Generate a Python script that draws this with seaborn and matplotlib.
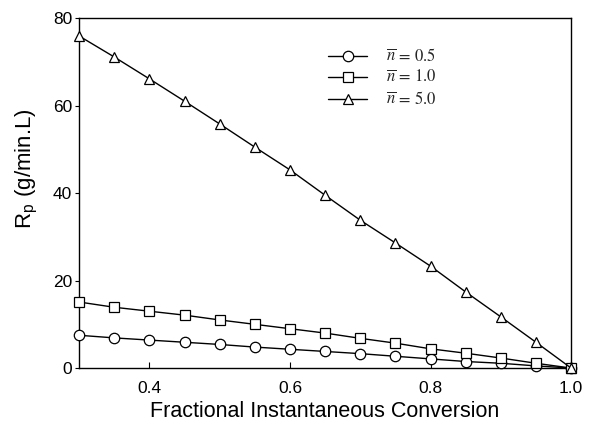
import numpy as np
import pandas as pd
import seaborn as sns
import matplotlib.pyplot as plt

sns.set_style("ticks")
plt.rcParams['font.family'] = ['Liberation Sans', 'DejaVu Sans']
plt.rcParams['mathtext.fontset'] = 'stix'

# data
conversion = [0.30, 0.35, 0.40, 0.45, 0.50, 0.55, 0.60, 0.65, 0.70, 0.75, 0.80, 0.85, 0.90, 0.95, 1.00]
rp_n05 = [7.5, 6.9, 6.4, 5.9, 5.4, 4.8, 4.3, 3.8, 3.3, 2.7, 2.1, 1.5, 1.1, 0.5, 0.0]
rp_n10 = [15.1, 13.9, 13.0, 12.1, 11.0, 10.0, 9.0, 8.0, 6.8, 5.7, 4.4, 3.4, 2.3, 1.1, 0.0]
rp_n50 = [75.9, 71.1, 66.1, 61.0, 55.8, 50.5, 45.3, 39.5, 33.8, 28.6, 23.3, 17.4, 11.7, 5.9, 0.0]
series_labels = [r'$\overline{n}\,=\,0.5$', r'$\overline{n}\,=\,1.0$', r'$\overline{n}\,=\,5.0$']
markers = ['o', 's', '^']

df = pd.DataFrame({'x': conversion * 3,
                   'y': rp_n05 + rp_n10 + rp_n50,
                   'series': [series_labels[0]] * 15 + [series_labels[1]] * 15 + [series_labels[2]] * 15})

fig, ax = plt.subplots(figsize=(5.9, 4.29), dpi=100)
fig.subplots_adjust(left=0.134, right=0.968, top=0.958, bottom=0.142)

for lab, mk in zip(series_labels, markers):
    sns.lineplot(data=df[df['series'] == lab], x='x', y='y', ax=ax, color='black', lw=1,
                 marker=mk, markersize=7.5, markerfacecolor='white', markeredgecolor='black',
                 markeredgewidth=0.9, label=lab, clip_on=False, zorder=3)

ax.set(xlim=(0.3, 1.0), ylim=(0, 80), xticks=[0.4, 0.6, 0.8, 1.0], yticks=[0, 20, 40, 60, 80])
ax.set_xticklabels(['0.4', '0.6', '0.8', '1.0'])
ax.tick_params(axis='x', direction='in', length=4, labelsize=12.5, pad=9, colors='black')
ax.tick_params(axis='y', direction='out', length=3, labelsize=12.5, pad=2, colors='black')
for sp in ax.spines.values():
    sp.set_linewidth(1)
    sp.set_color('black')
    sp.set_visible(True)

ax.set_xlabel('Fractional Instantaneous Conversion', fontsize=15.5, color='black')
ax.xaxis.set_label_coords(0.5, -0.095)
ax.set_ylabel(r'R$_\mathregular{p}$ (g/min.L)', fontsize=16, color='black')
ax.yaxis.set_label_coords(-0.082, 0.57)

ax.legend(loc='upper left', bbox_to_anchor=(0.476, 0.959), frameon=False, fontsize=12,
          handlelength=2.35, labelspacing=0.3, handletextpad=1.1)

fig.savefig('out.png', dpi=100)
